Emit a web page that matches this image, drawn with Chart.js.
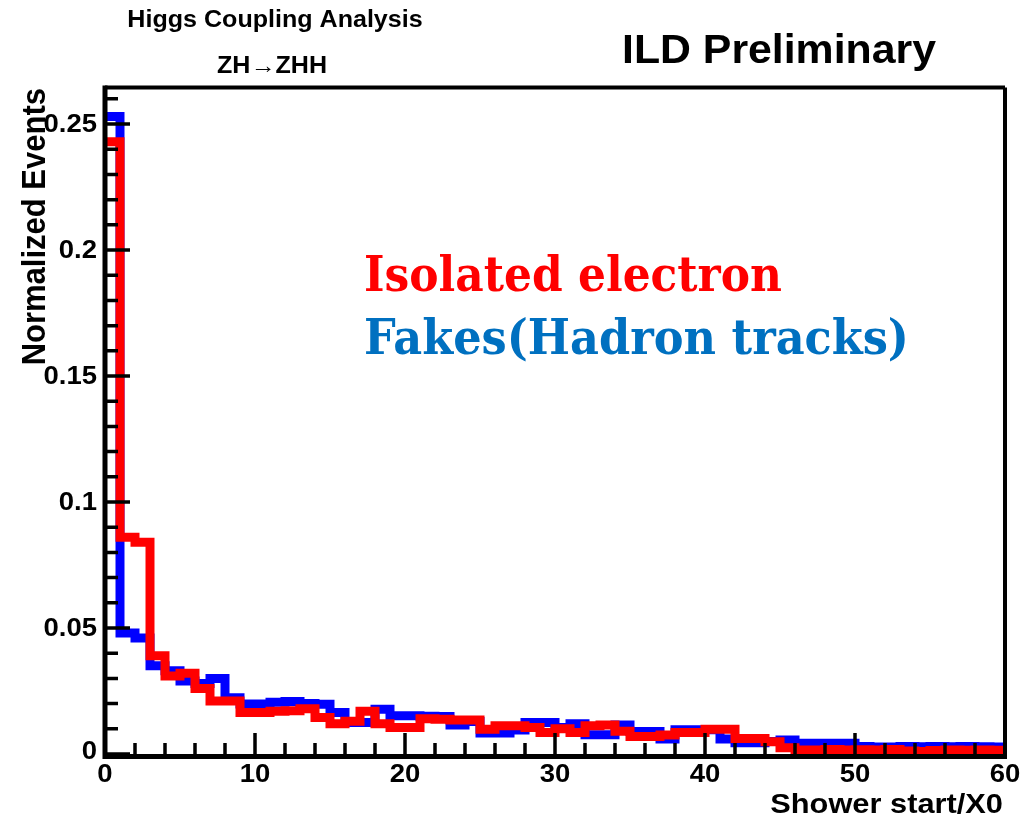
<!DOCTYPE html>
<html>
<head>
<meta charset="utf-8">
<title>Shower start / X0</title>
<script src="https://cdn.jsdelivr.net/npm/chart.js@4.4.1/dist/chart.umd.min.js"></script>
<style>
  html, body { margin: 0; padding: 0; background: #ffffff; }
  #c { display: block; }
</style>
</head>
<body>
<canvas id="c" width="1034" height="819"></canvas>
<script>
// Lower bin edges (Shower start / X0), bin width 1
const binLow = [0, 1, 2, 3, 4, 5, 6, 7, 8, 9,
  10, 11, 12, 13, 14, 15, 16, 17, 18, 19,
  20, 21, 22, 23, 24, 25, 26, 27, 28, 29,
  30, 31, 32, 33, 34, 35, 36, 37, 38, 39,
  40, 41, 42, 43, 44, 45, 46, 47, 48, 49,
  50, 51, 52, 53, 54, 55, 56, 57, 58, 59];
const binWidth = 1;

// Normalized entries per bin: isolated electrons
const isolatedElectron = [0.243, 0.086, 0.084, 0.039, 0.031, 0.032, 0.026, 0.021, 0.021, 0.0165,
  0.0165, 0.017, 0.0172, 0.018, 0.0145, 0.012, 0.013, 0.017, 0.012, 0.0105,
  0.0105, 0.014, 0.0138, 0.0135, 0.0135, 0.0098, 0.0112, 0.0112, 0.0105, 0.0085,
  0.010, 0.0085, 0.0112, 0.0115, 0.009, 0.0069, 0.0069, 0.0075, 0.0085, 0.0085,
  0.0098, 0.0098, 0.0062, 0.0062, 0.0049, 0.0025, 0.0016, 0.0016, 0.0018, 0.0016,
  0.0017, 0.0016, 0.0018, 0.0012, 0.0010, 0.0014, 0.0016, 0.0015, 0.0016, 0.0015];

// Normalized entries per bin: fakes from hadron tracks
const fakesHadron = [0.253, 0.048, 0.046, 0.035, 0.033, 0.029, 0.028, 0.030, 0.0223, 0.0198,
  0.0198, 0.0205, 0.0208, 0.020, 0.0197, 0.0165, 0.0125, 0.0125, 0.0178, 0.0152,
  0.0152, 0.015, 0.0149, 0.0115, 0.0129, 0.0083, 0.0083, 0.0095, 0.0125, 0.0125,
  0.0105, 0.012, 0.0076, 0.0076, 0.0115, 0.0089, 0.0089, 0.006, 0.0096, 0.0096,
  0.0096, 0.006, 0.0045, 0.0045, 0.005, 0.0056, 0.0043, 0.0043, 0.0043, 0.0043,
  0.003, 0.0028, 0.0028, 0.003, 0.0029, 0.003, 0.0029, 0.003, 0.0029, 0.0028];

// Axis ticks and labels
const xTickValues = [0, 10, 20, 30, 40, 50, 60];
const xTickLabels = ['0', '10', '20', '30', '40', '50', '60'];
const yTickValues = [0, 0.05, 0.1, 0.15, 0.2, 0.25];
const yTickLabels = ['0', '0.05', '0.1', '0.15', '0.2', '0.25'];
const xMinorStep = 2;
const yMinorStep = 0.01;

const xRange = [0, 60];
const yRange = [0, 0.2645];

// Histogram outline: with 'before' stepping each point's content runs up to the next point's x
function histPoints(values) {
  const pts = [];
  for (let i = 0; i < values.length; i++) pts.push({ x: binLow[i], y: values[i] });
  pts.push({ x: binLow[binLow.length - 1] + binWidth, y: 0 });
  return pts;
}

const SANS = '"Liberation Sans", Arial, Helvetica, sans-serif';
const SX = 1.1; // horizontal stretch of the sans-serif lettering

function text(ctx, str, x, y, font, align, baseline, sx) {
  ctx.save();
  ctx.font = font;
  ctx.textAlign = align;
  ctx.textBaseline = baseline;
  ctx.translate(x, y);
  ctx.scale(sx, 1);
  ctx.fillText(str, 0, 0);
  ctx.restore();
}

function fittedText(ctx, str, x, y, font, width) {
  ctx.save();
  ctx.font = font;
  const sx = width / ctx.measureText(str).width;
  ctx.restore();
  text(ctx, str, x, y, font, 'left', 'alphabetic', sx);
}

const frameAndText = {
  id: 'frameAndText',
  beforeDraw(chart) {
    const ctx = chart.ctx;
    ctx.save();
    ctx.fillStyle = '#ffffff';
    ctx.fillRect(0, 0, chart.width, chart.height);
    ctx.restore();
  },
  afterDraw(chart) {
    const ctx = chart.ctx;
    const a = chart.chartArea;
    const xs = chart.scales.x, ys = chart.scales.y;
    ctx.save();
    ctx.strokeStyle = '#000';
    ctx.fillStyle = '#000';
    ctx.lineCap = 'butt';

    // minor and major ticks, pointing into the frame
    ctx.lineWidth = 3.5;
    ctx.beginPath();
    for (let v = xRange[0]; v <= xRange[1] + 1e-9; v += xMinorStep) {
      const px = xs.getPixelForValue(v);
      const major = xTickValues.some(t => Math.abs(t - v) < 1e-9);
      ctx.moveTo(px, a.bottom);
      ctx.lineTo(px, a.bottom - (major ? 21 : 11));
    }
    for (let k = 0; k * yMinorStep <= yRange[1] + 1e-9; k++) {
      const v = k * yMinorStep;
      const py = ys.getPixelForValue(v);
      const major = yTickValues.some(t => Math.abs(t - v) < 1e-9);
      ctx.moveTo(a.left, py);
      ctx.lineTo(a.left + (major ? 25 : 13), py);
    }
    ctx.stroke();

    // frame
    ctx.lineWidth = 4;
    ctx.beginPath();
    ctx.moveTo(a.left, a.top);
    ctx.lineTo(a.right, a.top);
    ctx.moveTo(a.right, a.top);
    ctx.lineTo(a.right, a.bottom);
    ctx.stroke();
    ctx.lineWidth = 5;
    ctx.beginPath();
    ctx.moveTo(a.left, a.top - 2);
    ctx.lineTo(a.left, a.bottom + 2.5);
    ctx.lineTo(a.right + 2, a.bottom + 2.5);
    ctx.stroke();

    // tick labels
    const tickFont = 'bold 25px ' + SANS;
    yTickValues.forEach((v, i) => {
      const py = ys.getPixelForValue(v);
      text(ctx, yTickLabels[i], a.left - 8, i === 0 ? py - 2 : py + 1, tickFont, 'right', 'middle', SX);
    });
    xTickValues.forEach((v, i) => {
      const px = xs.getPixelForValue(v);
      text(ctx, xTickLabels[i], px, a.bottom + 21, tickFont, 'center', 'middle', SX);
    });

    // axis titles
    text(ctx, 'Shower start/X0', a.right - 2, 813, 'bold 28px ' + SANS, 'right', 'alphabetic', SX);
    ctx.save();
    ctx.font = 'bold 31px ' + SANS;
    ctx.textAlign = 'right';
    ctx.textBaseline = 'alphabetic';
    ctx.translate(45, 88);
    ctx.rotate(-Math.PI / 2);
    ctx.scale(1, SX);
    ctx.fillText('Normalized Events', 0, 0);
    ctx.restore();

    // headings
    text(ctx, 'Higgs Coupling Analysis', 275, 27, 'bold 23px ' + SANS, 'center', 'alphabetic', 1.09);
    text(ctx, 'ZH\u2192ZHH', 272, 73, 'bold 23px ' + SANS, 'center', 'alphabetic', 1.09);
    text(ctx, 'ILD Preliminary', 622, 63, 'bold 40px ' + SANS, 'left', 'alphabetic', 1.07);

    // series labels
    const serif = 'bold 48px "DejaVu Serif", "Liberation Serif", serif';
    ctx.fillStyle = '#ff0000';
    fittedText(ctx, 'Isolated electron', 364, 291, serif, 418);
    ctx.fillStyle = '#0070c0';
    fittedText(ctx, 'Fakes(Hadron tracks)', 364, 354, serif, 545);
    ctx.restore();
  }
};

new Chart(document.getElementById('c'), {
  type: 'line',
  data: {
    datasets: [
      {
        label: 'Isolated electron',
        data: histPoints(isolatedElectron),
        borderColor: '#ff0000',
        borderWidth: 9,
        stepped: 'before',
        pointRadius: 0,
        fill: false,
        borderJoinStyle: 'miter',
        order: 0
      },
      {
        label: 'Fakes(Hadron tracks)',
        data: histPoints(fakesHadron),
        borderColor: '#0000ff',
        borderWidth: 9,
        stepped: 'before',
        pointRadius: 0,
        fill: false,
        borderJoinStyle: 'miter',
        order: 1
      }
    ]
  },
  options: {
    responsive: false,
    animation: false,
    events: [],
    layout: { padding: { left: 105, right: 29, top: 87.5, bottom: 65 } },
    scales: {
      x: { type: 'linear', min: xRange[0], max: xRange[1], display: false },
      y: { type: 'linear', min: yRange[0], max: yRange[1], display: false }
    },
    plugins: { legend: { display: false }, tooltip: { enabled: false } }
  },
  plugins: [frameAndText]
});
</script>
</body>
</html>
